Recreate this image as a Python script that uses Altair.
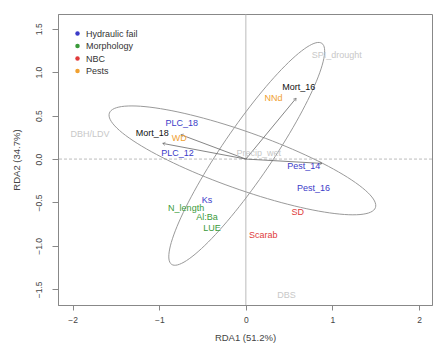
import altair as alt
import numpy as np
import pandas as pd

# ---- data ----
label_text = ["Mort_16", "Mort_18", "NNd", "WD", "PLC_18", "PLC_12",
              "Pest_14", "Pest_16", "Ks", "N_length", "Al:Ba", "LUE",
              "SD", "Scarab", "DBH/LDV", "SPI_drought", "Precip_wet", "DBS"]
label_x = [0.61, -1.08, 0.32, -0.77, -0.74, -0.79,
           0.67, 0.78, -0.45, -0.69, -0.45, -0.39,
           0.60, 0.20, -1.80, 1.05, 0.15, 0.47]
label_y = [0.83, 0.30, 0.70, 0.24, 0.41, 0.07,
           -0.08, -0.33, -0.47, -0.56, -0.67, -0.79,
           -0.61, -0.87, 0.29, 1.20, 0.07, -1.57]
label_group = ["Response", "Response", "Pests", "Pests", "Hydraulic fail", "Hydraulic fail",
               "Hydraulic fail", "Hydraulic fail", "Hydraulic fail", "Morphology", "Morphology", "Morphology",
               "NBC", "NBC", "Other", "Other", "Other", "Other"]

groups = ["Hydraulic fail", "Morphology", "NBC", "Pests", "Response", "Other"]
group_colors = ["#3b3bc8", "#3a9a3a", "#e03a3a", "#f0a030", "#111111", "#c8c8c8"]

arrow_x = [0.58, -0.75, -0.96, 0.88]
arrow_y = [0.70, 0.28, 0.18, -0.05]

ell_id = ["E1", "E2"]
ell_cx = [0.01, -0.04]
ell_cy = [0.06, -0.015]
ell_a = [1.54, 1.63]
ell_b = [0.29, 0.33]
ell_ang = [55.7, -19.5]

x_ticks = [-2, -1, 0, 1, 2]
y_ticks = [-1.5, -1.0, -0.5, 0.0, 0.5, 1.0, 1.5]

XDOM = [-2.17, 2.15]
YDOM = [-1.68, 1.67]
W, H = 374, 291
FONT = "Liberation Sans"

# ---- tables ----
labels = pd.DataFrame({"x": label_x, "y": label_y, "text": label_text, "group": label_group})

rows = []
t = np.linspace(0, 2 * np.pi, 121)
for i, e in enumerate(ell_id):
    th = np.deg2rad(ell_ang[i])
    ex = ell_cx[i] + ell_a[i] * np.cos(t) * np.cos(th) - ell_b[i] * np.sin(t) * np.sin(th)
    ey = ell_cy[i] + ell_a[i] * np.cos(t) * np.sin(th) + ell_b[i] * np.sin(t) * np.cos(th)
    for k in range(len(t)):
        rows.append({"id": e, "k": k, "x": ex[k], "y": ey[k]})
ellipses = pd.DataFrame(rows)

sx = W / (XDOM[1] - XDOM[0])
sy = H / (YDOM[1] - YDOM[0])
arrows = pd.DataFrame({"x0": 0.0, "y0": 0.0, "x": arrow_x, "y": arrow_y})
arrows["ang"] = (np.degrees(np.arctan2(arrows["x"] * sx, arrows["y"] * sy)) + 360) % 360

xs = alt.Scale(domain=XDOM, nice=False, zero=False)
ys = alt.Scale(domain=YDOM, nice=False, zero=False)

xaxis = alt.Axis(values=x_ticks, title="RDA1 (51.2%)", grid=False, format="d",
                 tickSize=5, labelPadding=5, titlePadding=9, domainColor="#888",
                 tickColor="#888")
yaxis = alt.Axis(values=y_ticks, title="RDA2 (34.7%)", grid=False, format=".1f",
                 tickSize=6, labelAngle=270, labelAlign="center", labelBaseline="bottom",
                 labelPadding=9, titlePadding=13, domainColor="#888", tickColor="#888")

axes_layer = alt.Chart(labels).mark_point(opacity=0).encode(
    x=alt.X("x:Q", scale=xs, axis=xaxis),
    y=alt.Y("y:Q", scale=ys, axis=yaxis),
)

hline = alt.Chart(pd.DataFrame({"y": [0.0]})).mark_rule(
    color="#aaaaaa", strokeWidth=0.8, strokeDash=[3, 2]).encode(y=alt.Y("y:Q", scale=ys))
vline = alt.Chart(pd.DataFrame({"x": [0.0]})).mark_rule(
    color="#aaaaaa", strokeWidth=0.8).encode(x=alt.X("x:Q", scale=xs))

ell_layer = alt.Chart(ellipses).mark_line(color="#9a9a9a", strokeWidth=1).encode(
    x=alt.X("x:Q", scale=xs), y=alt.Y("y:Q", scale=ys),
    detail="id:N", order="k:Q")

arrow_lines = alt.Chart(arrows).mark_rule(color="#666666", strokeWidth=0.8).encode(
    x=alt.X("x0:Q", scale=xs), y=alt.Y("y0:Q", scale=ys), x2="x:Q", y2="y:Q")
arrow_heads = alt.Chart(arrows).mark_point(
    shape="M -0.6 0.9 L 0 0 L 0.6 0.9", filled=False, color="#666666",
    strokeWidth=0.8, size=30).encode(
    x=alt.X("x:Q", scale=xs), y=alt.Y("y:Q", scale=ys),
    angle=alt.Angle("ang:Q", scale=None))

text_layer = alt.Chart(labels).mark_text(font=FONT, fontSize=9, align="center",
                                         baseline="middle").encode(
    x=alt.X("x:Q", scale=xs), y=alt.Y("y:Q", scale=ys), text="text:N",
    color=alt.Color("group:N", scale=alt.Scale(domain=groups, range=group_colors),
                    legend=alt.Legend(values=groups[:4], title=None, orient="none",
                                      legendX=15, legendY=15, symbolType="circle",
                                      symbolSize=20, labelFontSize=9, labelFont=FONT,
                                      labelColor="#333", rowPadding=2.5, labelOffset=4,
                                      symbolStrokeWidth=0)))

chart = alt.layer(axes_layer, hline, vline, ell_layer, arrow_lines, arrow_heads, text_layer).properties(
    width=W, height=H,
    background="white",
    autosize=alt.AutoSizeParams(type="none"),
    padding={"left": 58, "top": 14, "right": 1, "bottom": 49},
).configure_view(stroke="#888888", strokeWidth=1).configure_axis(
    labelFont=FONT, titleFont=FONT, labelFontSize=8.5, titleFontSize=9.5,
    labelColor="#444", titleColor="#444", titleFontWeight="normal"
)

chart.save("out.html", embed_options={"renderer": "svg", "actions": False})
